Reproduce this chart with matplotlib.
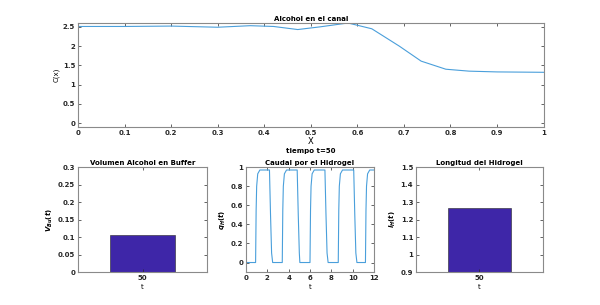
import matplotlib.pyplot as plt

# perfil de alcohol en el canal
x_canal = [0.0, 0.1, 0.2, 0.3, 0.37, 0.42, 0.472, 0.52, 0.58, 0.631, 0.69, 0.737, 0.79, 0.84, 0.9, 1.0]
c_canal = [2.51, 2.51, 2.52, 2.49, 2.53, 2.51, 2.43, 2.50, 2.60, 2.45, 2.00, 1.61, 1.40, 1.35, 1.33, 1.32]

# caudal por el hidrogel
t_q = [0.0, 0.9, 0.95, 1.0, 1.1, 1.3, 2.2, 2.3, 2.4, 2.5, 3.4, 3.45, 3.5, 3.6, 3.8, 4.8, 4.9, 5.0, 5.05,
       6.0, 6.05, 6.1, 6.2, 6.4, 7.4, 7.5, 7.6, 7.7, 8.65, 8.7, 8.75, 8.85, 9.05, 10.1, 10.2, 10.3, 10.4,
       11.2, 11.25, 11.3, 11.4, 11.6, 12.0]
q_h = [0.0, 0.0, 0.55, 0.8, 0.93, 0.97, 0.97, 0.5, 0.1, 0.0, 0.0, 0.55, 0.8, 0.93, 0.97, 0.97, 0.5, 0.1, 0.0,
       0.0, 0.55, 0.8, 0.93, 0.97, 0.97, 0.5, 0.1, 0.0, 0.0, 0.55, 0.8, 0.93, 0.97, 0.97, 0.5, 0.1, 0.0,
       0.0, 0.55, 0.8, 0.93, 0.97, 0.97]

t_actual = 50
vol_buffer = 0.105
long_hidrogel = 1.268

line_color = '#4A9FDB'
bar_color = '#3E26A8'
fs = 5

plt.rcParams['font.family'] = 'DejaVu Sans'
plt.rcParams['font.weight'] = 'bold'

fig = plt.figure(figsize=(6, 3.05), dpi=100)


def estilo(ax):
    ax.tick_params(direction='in', top=True, right=True, labelsize=fs, length=2,
                   width=0.5, colors='#262626', pad=2)
    for s in ax.spines.values():
        s.set_color('#8a8a8a')
        s.set_linewidth(0.8)


# arriba
ax1 = fig.add_axes([0.13, 0.5836, 0.776, 0.341])
ax1.plot(x_canal, c_canal, color=line_color, lw=0.8)
ax1.set_xlim(0, 1)
ax1.set_ylim(-0.1, 2.6)
ax1.set_xticks([i / 10 for i in range(11)])
ax1.set_xticklabels(['0', '0.1', '0.2', '0.3', '0.4', '0.5', '0.6', '0.7', '0.8', '0.9', '1'])
ax1.set_yticks([0, 0.5, 1, 1.5, 2, 2.5])
ax1.set_yticklabels(['0', '0.5', '1', '1.5', '2', '2.5'])
ax1.set_title('Alcohol en el canal', fontsize=fs, fontweight='bold', pad=1.5)
ax1.set_xlabel('X', fontsize=fs + 1, labelpad=1)
ax1.set_ylabel('C(x)', fontsize=fs, labelpad=2)
ax1.text(0.5, -0.2, 'tiempo t=%d' % t_actual, transform=ax1.transAxes, ha='center', va='top', fontsize=fs)
estilo(ax1)

# volumen buffer
ax2 = fig.add_axes([0.13, 0.108, 0.215, 0.344])
ax2.bar([t_actual], [vol_buffer], width=0.8, color=bar_color, edgecolor='#262626', linewidth=0.4)
ax2.set_xlim(t_actual - 0.8, t_actual + 0.8)
ax2.set_ylim(0, 0.3)
ax2.set_xticks([t_actual])
ax2.set_yticks([0, 0.05, 0.1, 0.15, 0.2, 0.25, 0.3])
ax2.set_yticklabels(['0', '0.05', '0.1', '0.15', '0.2', '0.25', '0.3'])
ax2.set_title('Volumen Alcohol en Buffer', fontsize=fs, fontweight='bold', pad=1.5)
ax2.set_xlabel('t', fontsize=fs, labelpad=2)
ax2.set_ylabel('$V_{Bu}(t)$', fontsize=fs, labelpad=2)
estilo(ax2)

# caudal
ax3 = fig.add_axes([0.41, 0.108, 0.2133, 0.344])
ax3.plot(t_q, q_h, color=line_color, lw=0.8)
ax3.set_xlim(0, 12)
ax3.set_ylim(-0.1, 1)
ax3.set_xticks([0, 2, 4, 6, 8, 10, 12])
ax3.set_yticks([0, 0.2, 0.4, 0.6, 0.8, 1])
ax3.set_yticklabels(['0', '0.2', '0.4', '0.6', '0.8', '1'])
ax3.set_title('Caudal por el Hidrogel', fontsize=fs, fontweight='bold', pad=1.5)
ax3.set_xlabel('t', fontsize=fs, labelpad=2)
ax3.set_ylabel('$q_H(t)$', fontsize=fs, labelpad=2)
estilo(ax3)

# longitud
ax4 = fig.add_axes([0.6933, 0.108, 0.2117, 0.344])
ax4.bar([t_actual], [long_hidrogel], width=0.8, color=bar_color, edgecolor='#262626', linewidth=0.4)
ax4.set_xlim(t_actual - 0.8, t_actual + 0.8)
ax4.set_ylim(0.9, 1.5)
ax4.set_xticks([t_actual])
ax4.set_yticks([0.9, 1.0, 1.1, 1.2, 1.3, 1.4, 1.5])
ax4.set_yticklabels(['0.9', '1', '1.1', '1.2', '1.3', '1.4', '1.5'])
ax4.set_title('Longitud del Hidrogel', fontsize=fs, fontweight='bold', pad=1.5)
ax4.set_xlabel('t', fontsize=fs, labelpad=2)
ax4.set_ylabel('$l_H(t)$', fontsize=fs, labelpad=2)
estilo(ax4)

plt.savefig('out.png', dpi=100)
